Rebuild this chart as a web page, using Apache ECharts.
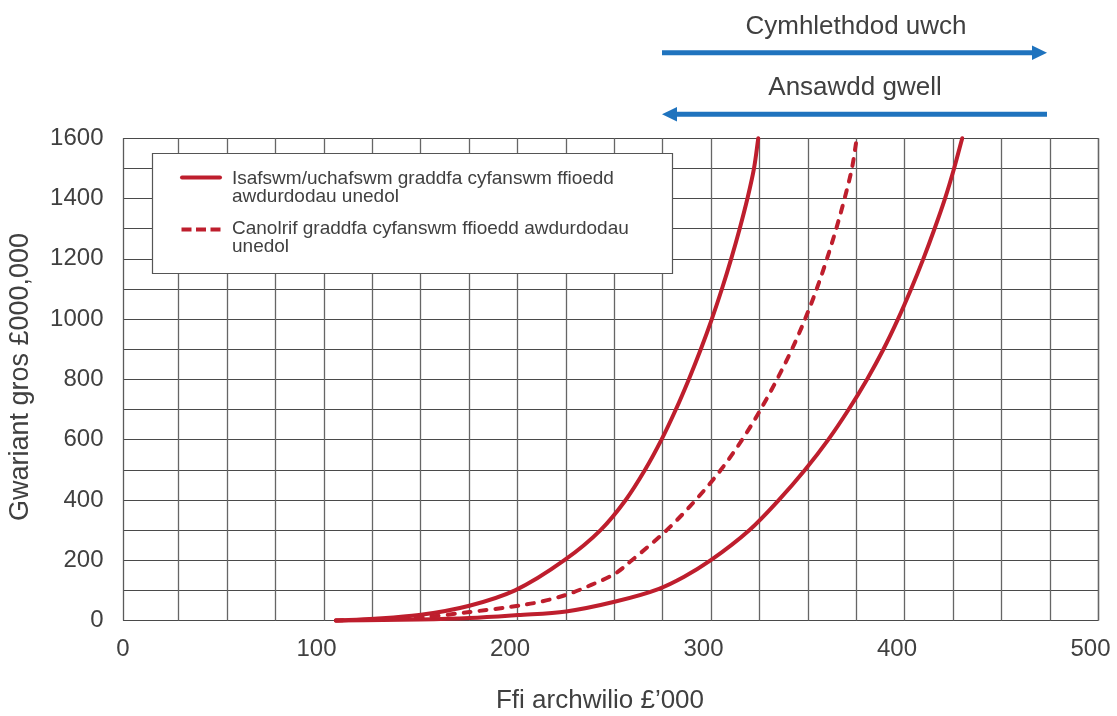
<!DOCTYPE html>
<html>
<head>
<meta charset="utf-8">
<script src="https://cdn.jsdelivr.net/npm/echarts@6/dist/echarts.min.js"></script>
<style>
html,body{margin:0;padding:0;background:#fff;}
#chart{width:1117px;height:716px;}
</style>
</head>
<body>
<div id="chart"></div>
<script>
// ---- data ----
const xTicks = [0, 100, 200, 300, 400, 500];
const yTicks = [0, 200, 400, 600, 800, 1000, 1200, 1400, 1600];

// lower bound curve (solid, left)
const minX = [110, 130, 153, 179, 202.6, 228.1, 246.8, 259.8, 269.8, 278.3, 285.7, 292.4, 298.6, 304.3, 309.5, 314.3, 318.7, 322.7, 326.1, 328.3];
const minY = [0, 6, 18, 49, 100, 200, 300, 400, 500, 600, 700, 800, 900, 1000, 1100, 1200, 1300, 1400, 1500, 1600];

// median curve (dashed)
const medX = [110, 133, 153.5, 179, 200, 215.6, 229.4, 242, 254.4, 263, 281, 296, 309, 320, 329.5, 338, 345.7, 352.5, 358.5, 363.8, 368.6, 372.9, 376.7, 379.2];
const medY = [0, 4, 10, 28, 45, 62, 86, 118, 156, 200, 300, 400, 500, 600, 700, 800, 900, 1000, 1100, 1200, 1300, 1400, 1500, 1600];

// upper bound curve (solid, right)
const maxX = [110, 153, 179, 204, 229, 254, 277, 290, 303.8, 323.8, 339, 352.5, 364.5, 375, 384.5, 393, 400.5, 407.3, 413.6, 419.4, 424.8, 429.5, 433.7];
const maxY = [0, 3, 8, 18, 30, 62, 105, 145, 200, 300, 400, 500, 600, 700, 800, 900, 1000, 1100, 1200, 1300, 1400, 1500, 1600];

const legendNames = [
  'Isafswm/uchafswm graddfa cyfanswm ffioedd\nawdurdodau unedol',
  'Canolrif graddfa cyfanswm ffioedd awdurdodau\nunedol'
];
const xTitle = 'Ffi archwilio £’000';
const yTitle = 'Gwariant gros £000,000';
const arrowTexts = ['Cymhlethdod uwch', 'Ansawdd gwell'];

// ---- build ----
const FONT = "'Liberation Sans', Arial, Helvetica, sans-serif";
const TXT = '#404040';
const RED = '#be1e2d';
const BLUE = '#1f73be';
const GRIDC = '#4a4a4a';

function pairs(xs, ys) { return xs.map((x, i) => [x, ys[i]]); }

// centripetal Catmull-Rom through pixel points -> SVG path
function splinePath(pts) {
  const n = pts.length;
  const P = i => pts[Math.max(0, Math.min(n - 1, i))];
  const dist = (a, b) => Math.pow(Math.hypot(b[0] - a[0], b[1] - a[1]), 0.5);
  let d = 'M' + pts[0][0] + ' ' + pts[0][1];
  for (let i = 0; i < n - 1; i++) {
    const p0 = P(i - 1), p1 = P(i), p2 = P(i + 1), p3 = P(i + 2);
    const d1 = dist(p0, p1), d2 = dist(p1, p2), d3 = dist(p2, p3);
    let c1, c2;
    if (d1 < 1e-6) c1 = [p1[0] + (p2[0] - p1[0]) / 3, p1[1] + (p2[1] - p1[1]) / 3];
    else c1 = [0, 1].map(k => (d1 * d1 * p2[k] - d2 * d2 * p0[k] + (2 * d1 * d1 + 3 * d1 * d2 + d2 * d2) * p1[k]) / (3 * d1 * (d1 + d2)));
    if (d3 < 1e-6) c2 = [p2[0] - (p2[0] - p1[0]) / 3, p2[1] - (p2[1] - p1[1]) / 3];
    else c2 = [0, 1].map(k => (d3 * d3 * p1[k] - d2 * d2 * p3[k] + (2 * d3 * d3 + 3 * d3 * d2 + d2 * d2) * p2[k]) / (3 * d3 * (d3 + d2)));
    d += ' C' + c1[0] + ' ' + c1[1] + ' ' + c2[0] + ' ' + c2[1] + ' ' + p2[0] + ' ' + p2[1];
  }
  return d;
}

function curveSeries(name, xs, ys, dash) {
  const data = pairs(xs, ys);
  return {
    type: 'custom', name: name, coordinateSystem: 'cartesian2d', xAxisIndex: 0, yAxisIndex: 0,
    data: data, z: 5, clip: false, silent: true,
    renderItem: function (params, api) {
      if (params.dataIndex !== 0) return {type: 'group', children: []};
      const px = data.map(p => api.coord(p));
      return {
        type: 'path',
        shape: {pathData: splinePath(px)},
        style: {fill: 'none', stroke: RED, lineWidth: 4, lineCap: 'round', lineJoin: 'round',
          lineDash: dash || null}
      };
    }
  };
}

const chart = echarts.init(document.getElementById('chart'), null, {renderer: 'canvas'});

const gTop = 138.3, gBottom = 95.5;

const option = {
  backgroundColor: '#ffffff',
  animation: false,
  grid: [
    {left: 123, right: 26.5, top: gTop, bottom: gBottom},
    {left: 123, right: 18.7, top: gTop, bottom: gBottom},
    {left: 178.7, right: 18.7, top: gTop, bottom: gBottom}
  ],
  xAxis: [
    {gridIndex: 0, type: 'value', min: xTicks[0], max: xTicks[xTicks.length - 1], interval: 100,
      axisLine: {show: false}, axisTick: {show: false}, splitLine: {show: false},
      axisLabel: {fontSize: 24, color: TXT, fontFamily: FONT, margin: 17, formatter: v => String(v)}},
    {gridIndex: 1, type: 'value', min: 0, max: 1, interval: 1,
      axisLine: {show: false}, axisTick: {show: false}, axisLabel: {show: false},
      splitLine: {show: true, lineStyle: {color: '#5a5a5a', width: 1.3}}},
    {gridIndex: 2, type: 'value', min: 0, max: 19, interval: 1,
      axisLine: {show: false}, axisTick: {show: false}, axisLabel: {show: false},
      splitLine: {show: true, lineStyle: {color: '#666', width: 1.3}}}
  ],
  yAxis: [
    {gridIndex: 0, type: 'value', min: yTicks[0], max: yTicks[yTicks.length - 1], interval: 200,
      axisLine: {show: false}, axisTick: {show: false}, splitLine: {show: false},
      axisLabel: {fontSize: 24, color: TXT, fontFamily: FONT, margin: 19.5, formatter: v => String(v)}},
    {gridIndex: 1, type: 'value', min: 0, max: 1600, interval: 100,
      axisLine: {show: false}, axisTick: {show: false}, axisLabel: {show: false},
      splitLine: {show: true, lineStyle: {color: GRIDC, width: 1.1}}},
    {gridIndex: 2, type: 'value', min: 0, max: 1, show: false}
  ],
  series: [
    curveSeries('min', minX, minY),
    curveSeries('max', maxX, maxY),
    curveSeries('median', medX, medY, [7, 9])
  ],
  graphic: [
    // legend box
    {type: 'rect', z: 20, shape: {x: 152.5, y: 153.5, width: 520, height: 120},
      style: {fill: '#fff', stroke: '#555', lineWidth: 1.2}},
    {type: 'line', z: 21, shape: {x1: 182, y1: 177.5, x2: 220, y2: 177.5},
      style: {stroke: RED, lineWidth: 4, lineCap: 'round'}},
    {type: 'line', z: 21, shape: {x1: 181.5, y1: 229.5, x2: 220.5, y2: 229.5},
      style: {stroke: RED, lineWidth: 4, lineDash: [10, 4.5]}},
    {type: 'text', z: 21, x: 232, y: 169.5,
      style: {text: legendNames[0], font: '19px ' + FONT, fill: TXT, lineHeight: 18, verticalAlign: 'top'}},
    {type: 'text', z: 21, x: 232, y: 220,
      style: {text: legendNames[1], font: '19px ' + FONT, fill: TXT, lineHeight: 18, verticalAlign: 'top'}},
    // axis titles
    {type: 'text', z: 21, x: 600, y: 701,
      style: {text: xTitle, font: '26px ' + FONT, fill: TXT, align: 'center', verticalAlign: 'middle'}},
    {type: 'text', z: 21, x: 21, y: 377, rotation: Math.PI / 2,
      style: {text: yTitle, font: '27px ' + FONT, fill: TXT, align: 'center', verticalAlign: 'middle'}},
    // arrow annotations
    {type: 'text', z: 21, x: 856, y: 26.5,
      style: {text: arrowTexts[0], font: '26px ' + FONT, fill: TXT, align: 'center', verticalAlign: 'middle'}},
    {type: 'line', z: 21, shape: {x1: 662, y1: 52.7, x2: 1034, y2: 52.7},
      style: {stroke: BLUE, lineWidth: 5}},
    {type: 'polygon', z: 21, shape: {points: [[1032, 45.5], [1047, 52.7], [1032, 60]]},
      style: {fill: BLUE}},
    {type: 'text', z: 21, x: 855, y: 88,
      style: {text: arrowTexts[1], font: '26px ' + FONT, fill: TXT, align: 'center', verticalAlign: 'middle'}},
    {type: 'line', z: 21, shape: {x1: 675, y1: 114.3, x2: 1047, y2: 114.3},
      style: {stroke: BLUE, lineWidth: 5}},
    {type: 'polygon', z: 21, shape: {points: [[677, 107], [662, 114.3], [677, 121.5]]},
      style: {fill: BLUE}}
  ]
};
chart.setOption(option);
</script>
</body>
</html>
